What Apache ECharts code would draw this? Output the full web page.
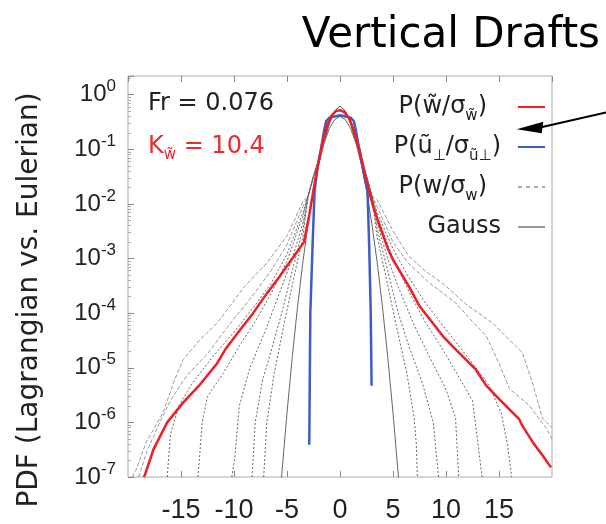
<!DOCTYPE html>
<html>
<head>
<meta charset="utf-8">
<title>Vertical Drafts</title>
<script src="https://cdn.jsdelivr.net/npm/echarts@6/dist/echarts.min.js"></script>
<style>
  html, body { margin: 0; padding: 0; background: #fff; }
  #chart { width: 606px; height: 524px; }
</style>
</head>
<body>
<div id="chart"></div>
<script>
// PDF of w~/sigma (red)
var redCurve = [
  [-18.5, 1.0e-7], [-18.4, 1.1e-7], [-17.6, 3.2e-7], [-16.3, 1.0e-6], [-14.8, 2.3e-6],
  [-13.3, 4.7e-6], [-11.6, 1.2e-5], [-10.8, 2.2e-5], [-9.4, 5.0e-5], [-8.2, 1.0e-4],
  [-6.9, 2.3e-4], [-5.7, 4.7e-4], [-4.5, 1.0e-3], [-3.4, 2.0e-3], [-2.9, 6.3e-3],
  [-2.26, 3.4e-2], [-1.64, 0.135], [-1.2, 0.28], [-0.85, 0.40], [-0.4, 0.50], [0, 0.52],
  [0.4, 0.48], [0.88, 0.37], [1.3, 0.22], [1.82, 0.10], [2.3, 0.04], [2.76, 1.66e-2],
  [3.2, 8.0e-3], [3.7, 4.2e-3], [4.5, 1.55e-3], [5.0, 9.5e-4], [6.5, 3.1e-4], [7.5, 1.35e-4],
  [9.7, 3.8e-5], [10.6, 2.5e-5], [12.8, 9.3e-6], [13.8, 4.7e-6], [15.0, 2.7e-6],
  [16.9, 1.15e-6], [17.2, 8.7e-7], [18.2, 4.3e-7], [19.1, 2.5e-7], [19.9, 1.5e-7]
];
// PDF of u~perp/sigma (blue)
var blueCurve = [
  [-2.9, 3.9e-7], [-2.8, 1.0e-4], [-2.6, 1.5e-3], [-2.4, 1.7e-2], [-2.1, 5.0e-2], [-1.8, 0.10],
  [-1.5, 0.22], [-1.3, 0.33], [-1.0, 0.38], [-0.5, 0.40], [0, 0.42], [0.5, 0.40], [1.0, 0.38],
  [1.3, 0.33], [1.5, 0.22], [1.82, 0.10], [2.2, 4.0e-2], [2.6, 1.7e-2], [2.76, 1.5e-3],
  [2.9, 1.0e-4], [2.98, 4.7e-6]
];
// Gauss reference
var gaussCurve = [
  [-5.6, 6.2e-8], [-5.5, 1.08e-7], [-5, 1.49e-6], [-4.5, 1.6e-5], [-4, 1.34e-4], [-3.5, 8.7e-4],
  [-3, 4.4e-3], [-2.5, 1.75e-2], [-2, 5.4e-2], [-1.5, 0.13], [-1, 0.24], [-0.5, 0.35], [0, 0.40],
  [0.5, 0.35], [1, 0.24], [1.5, 0.13], [2, 5.4e-2], [2.5, 1.75e-2], [3, 4.4e-3], [3.5, 8.7e-4],
  [4, 1.34e-4], [4.5, 1.6e-5], [5, 1.49e-6], [5.5, 1.08e-7], [5.6, 6.2e-8]
];
// Eulerian P(w/sigma_w), several runs (grey)
var grayCore = [
  [-3, 1.4e-2], [-2.5, 3.2e-2], [-2, 6.5e-2], [-1.5, 0.14], [-1, 0.3], [-0.5, 0.5], [0, 0.62],
  [0.5, 0.5], [1, 0.3], [1.5, 0.14], [2, 6.5e-2], [2.5, 3.2e-2], [3, 1.4e-2]
];
var gray1 = [[-19.6, 1.0e-7], [-19.2, 1.4e-7], [-18.3, 4.3e-7], [-16.7, 1.5e-6], [-15.6, 6.0e-6],
  [-14.8, 1.4e-5], [-13.2, 3.3e-5], [-11.6, 6.6e-5], [-10.2, 1.5e-4], [-9.0, 3.1e-4], [-6.9, 8.3e-4],
  [-5.0, 2.6e-3], [-3.5, 1.1e-2]].concat(grayCore, [[3.5, 1.2e-2], [5.0, 3.2e-3], [6.5, 1.1e-3],
  [8, 6.0e-4], [9.7, 3.5e-4], [12, 1.4e-4], [14.4, 6.6e-5], [16, 3.2e-5], [17.2, 1.9e-5],
  [18.2, 5.0e-6], [19.1, 1.2e-6], [20, 8.0e-7]]);
var gray2 = [[-19.0, 1.0e-7], [-18.2, 3.0e-7], [-17.0, 1.0e-6], [-16.0, 2.5e-6], [-14.5, 7.0e-6],
  [-12.5, 1.8e-5], [-10.5, 6.0e-5], [-8.5, 1.8e-4], [-6.5, 6.0e-4], [-5, 1.8e-3], [-3.5, 9.0e-3]]
  .concat(grayCore, [[3.5, 9.0e-3], [5, 2.0e-3], [6.5, 8.0e-4], [8.5, 3.5e-4], [10.9, 1.55e-4],
  [12.5, 7.0e-5], [13.8, 3.8e-5], [15, 1.2e-5], [16, 4.1e-6], [17.9, 2.0e-6], [19.5, 7.6e-7], [20, 5.0e-7]]);
var gray3 = [[-16.3, 1.0e-7], [-16, 6.0e-7], [-15.2, 2.0e-6], [-14, 5.0e-6], [-12, 1.6e-5],
  [-10, 4.5e-5], [-8, 1.4e-4], [-6.5, 3.5e-4], [-5, 1.2e-3], [-3.5, 7.0e-3]]
  .concat(grayCore, [[3.5, 7.0e-3], [5, 1.5e-3], [6.5, 4.5e-4], [8, 1.6e-4], [10, 5.0e-5],
  [12, 1.6e-5], [14, 5.0e-6], [15.2, 1.5e-6], [15.8, 4.0e-7], [16.2, 1.0e-7]]);
var gray4 = [[-13.4, 1.0e-7], [-13.0, 1.0e-6], [-12.5, 3.0e-6], [-11, 8.0e-6], [-9.5, 2.5e-5],
  [-8, 7.0e-5], [-6.5, 2.3e-4], [-5, 9.0e-4], [-3.5, 6.0e-3]]
  .concat(grayCore, [[3.5, 6.0e-3], [5, 1.0e-3], [6.5, 2.5e-4], [8, 7.0e-5], [9.5, 2.5e-5],
  [11, 8.0e-6], [12.5, 2.5e-6], [13.1, 3.0e-7], [13.4, 1.0e-7]]);
var gray5 = [[-10.2, 1.0e-7], [-9.9, 2.5e-7], [-9.5, 2.0e-6], [-8.5, 1.0e-5], [-7, 5.0e-5],
  [-5.5, 3.0e-4], [-4.5, 1.0e-3], [-3.5, 4.5e-3]]
  .concat(grayCore, [[3.5, 4.5e-3], [4.5, 1.0e-3], [5.5, 3.0e-4], [7, 6.0e-5], [8.5, 1.5e-5],
  [10, 4.0e-6], [10.9, 1.2e-6], [11.2, 1.0e-7]]);
var gray6 = [[-8.3, 1.0e-7], [-8.0, 1.0e-6], [-7.3, 6.0e-6], [-6.5, 2.0e-5], [-5.5, 1.0e-4],
  [-4.5, 6.0e-4], [-3.5, 3.5e-3]]
  .concat(grayCore, [[3.5, 3.5e-3], [4.5, 6.0e-4], [5.5, 1.0e-4], [6.5, 2.5e-5], [7.8, 5.0e-6],
  [8.8, 1.0e-6], [9.1, 2.5e-7], [9.3, 1.0e-7]]);
var gray7 = [[-7.2, 1.0e-7], [-6.9, 1.0e-6], [-6.2, 8.0e-6], [-5.3, 6.0e-5], [-4.3, 5.0e-4],
  [-3.5, 2.5e-3]]
  .concat(grayCore, [[3.5, 2.5e-3], [4.3, 5.0e-4], [5.3, 6.0e-5], [6.3, 8.0e-6], [7.0, 1.2e-6],
  [7.2, 4.0e-7], [7.3, 1.0e-7]]);

var FONT = '"DejaVu Sans", sans-serif';
var TICKFONT = '"Liberation Sans", Arial, sans-serif';

var chart = echarts.init(document.getElementById('chart'));

function curve(name, data, color, width, type, z) {
  return {
    name: name,
    type: 'line',
    data: data,
    symbol: 'none',
    showSymbol: false,
    z: z,
    clip: true,
    lineStyle: { color: color, width: width, type: type },
    itemStyle: { color: color }
  };
}

var series = [
  curve('gauss', gaussCurve, '#666', 1, 'solid', 2),
  curve('w', gray1, '#999', 1, [4, 2], 3),
  curve('w', gray2, '#999', 1, [4, 2], 3),
  curve('w', gray3, '#666', 1, [2, 2], 3),
  curve('w', gray4, '#666', 1, [2, 2], 3),
  curve('w', gray5, '#666', 1, [2, 2], 3),
  curve('w', gray6, '#666', 1, [2, 2], 3),
  curve('w', gray7, '#666', 1, [2, 2], 3),
  curve('us', blueCurve, '#3d5cc6', 2.5, 'solid', 4),
  curve('ws', redCurve, '#ee1f26', 2.5, 'solid', 5)
];

// trailing pads keep the legend texts where the reference has them
var legendLabels = {
  ws: '{n|P(w\u0303/σ}{s|w\u0303}{n|)}{p1| }',
  us: '{n|P(u\u0303}{s|⊥}{n|/σ}{s|u\u0303⊥}{n|)}{p2| }',
  w: '{n|P(w/σ}{s|w}{n|)}{p1| }',
  gauss: '{n|Gauss}{p2| }'
};

chart.setOption({
  animation: false,
  backgroundColor: '#fff',
  grid: {
    left: 128, right: 54, top: 76, bottom: 43,
    show: true, borderColor: '#aaa', borderWidth: 1
  },
  legend: {
    data: [
      { name: 'ws' },
      { name: 'us' },
      { name: 'w', lineStyle: { color: '#aaa', width: 2, type: [4, 4] } },
      { name: 'gauss', lineStyle: { color: '#999', width: 2 } }
    ],
    orient: 'vertical',
    right: 60,
    top: 87,
    padding: 0,
    itemGap: 0,
    itemWidth: 27,
    itemHeight: 12,
    align: 'right',
    selectedMode: false,
    itemStyle: { opacity: 0 },
    formatter: function (name) { return legendLabels[name]; },
    textStyle: {
      lineHeight: 40,
      fontFamily: FONT,
      fontSize: 24,
      color: '#222',
      rich: {
        n: { fontFamily: FONT, fontSize: 24, lineHeight: 40, color: '#222' },
        s: { fontFamily: FONT, fontSize: 15, lineHeight: 18, padding: [18, 0, 0, 0], color: '#222' },
        p1: { fontSize: 10, width: 26 },
        p2: { fontSize: 10, width: 12 }
      }
    }
  },
  xAxis: [{
    type: 'value',
    min: -20, max: 20, interval: 5,
    axisLine: { show: false, onZero: false },
    axisTick: { inside: true, length: 6, lineStyle: { color: '#888' } },
    splitLine: { show: false },
    axisLabel: {
      showMinLabel: false, showMaxLabel: false,
      margin: 20,
      fontFamily: TICKFONT, fontSize: 27, color: '#222'
    }
  }, {
    type: 'value',
    position: 'top',
    min: -20, max: 20, interval: 5,
    axisLine: { show: false, onZero: false },
    axisTick: { inside: true, length: 6, lineStyle: { color: '#888' } },
    splitLine: { show: false },
    axisLabel: { show: false }
  }],
  yAxis: {
    type: 'log',
    logBase: 10,
    min: 1e-7, max: 2.2,
    axisLine: { show: false, onZero: false },
    axisTick: { inside: true, length: 6, lineStyle: { color: '#888' } },
    minorTick: { show: true, splitNumber: 9, length: 3, lineStyle: { color: '#aaa' } },
    splitLine: { show: false },
    axisLabel: {
      showMaxLabel: false,
      margin: 12,
      formatter: function (v) {
        var e = Math.round(Math.log10(v));
        return '{b|10}{e|' + e + '}';
      },
      rich: {
        b: { fontFamily: TICKFONT, fontSize: 24, color: '#222' },
        e: { fontFamily: TICKFONT, fontSize: 17, color: '#222', padding: [0, 0, 16, 0] }
      }
    }
  },
  series: series,
  graphic: [
    {
      type: 'text', x: 600, y: 36,
      style: { text: 'Vertical Drafts', fontFamily: FONT, fontSize: 42, fill: '#000', align: 'right', verticalAlign: 'middle' }
    },
    {
      type: 'text', x: 30, y: 300, rotation: Math.PI / 2,
      style: { text: 'PDF (Lagrangian vs. Eulerian)', fontFamily: FONT, fontSize: 28, fill: '#222', align: 'center', verticalAlign: 'middle' }
    },
    {
      type: 'text', x: 148, y: 104,
      style: { text: 'Fr = 0.076', fontFamily: FONT, fontSize: 24, fill: '#222', align: 'left', verticalAlign: 'middle' }
    },
    {
      type: 'text', x: 148, y: 147,
      style: {
        text: '{k|K}{s|w\u0303}{k| = 10.4}',
        align: 'left', verticalAlign: 'middle',
        rich: {
          k: { fontFamily: FONT, fontSize: 24, fill: '#ee2a2f', lineHeight: 30 },
          s: { fontFamily: FONT, fontSize: 15, fill: '#ee2a2f', lineHeight: 16, padding: [16, 0, 0, 0] }
        }
      }
    },
    {
      type: 'line',
      shape: { x1: 606, y1: 112.5, x2: 540, y2: 127.5 },
      style: { stroke: '#000', lineWidth: 2 }
    },
    {
      type: 'polygon',
      shape: { points: [[516.7, 129.3], [543.3, 121.7], [541.7, 133.3]] },
      style: { fill: '#000' }
    }
  ]
});
</script>
</body>
</html>
